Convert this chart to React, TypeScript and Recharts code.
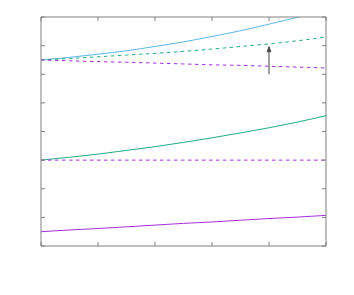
import React from 'react';
import { LineChart, Line, XAxis, YAxis, ReferenceLine, ReferenceDot } from 'recharts';

const xs = [0, 0.5, 1, 1.5, 2, 2.5, 3, 3.5, 4, 4.5, 5];
const upperSolid = [6.5, 6.59, 6.7, 6.82, 6.97, 7.13, 7.32, 7.52, 7.75, 7.99, 8.25];
const upperGreenDash = [6.5, 6.55, 6.61, 6.67, 6.73, 6.8, 6.88, 6.97, 7.06, 7.17, 7.3];
const upperPurpleDash = [6.5, 6.47, 6.44, 6.42, 6.39, 6.36, 6.33, 6.31, 6.28, 6.25, 6.22];
const midSolid = [3.0, 3.1, 3.21, 3.34, 3.47, 3.62, 3.78, 3.95, 4.13, 4.33, 4.55];
const midDash = [3, 3, 3, 3, 3, 3, 3, 3, 3, 3, 3];
const lowSolid = [0.5, 0.56, 0.61, 0.67, 0.73, 0.79, 0.84, 0.9, 0.96, 1.01, 1.07];

const xTicks = [0, 1, 2, 3, 4, 5];
const yTicks = [0, 1, 2, 3, 4, 5, 6, 7, 8];
const arrowX = 4;
const arrowFrom = 6.0;
const arrowTo = 6.96;

const data = xs.map((x, i) => ({
  x,
  a: upperSolid[i],
  b: upperGreenDash[i],
  c: upperPurpleDash[i],
  d: midSolid[i],
  e: midDash[i],
  f: lowSolid[i],
}));

const frame = '#808080';
const cyan = '#5ab8ea';
const green = '#22ad86';
const purple = '#a52ee0';
const blank = () => '';

const ArrowHead = (props: any) => {
  const { cx, cy } = props;
  return (
    <path
      d={`M${cx - 2},${cy + 5} L${cx},${cy} L${cx + 2},${cy + 5} Z`}
      stroke="#444"
      strokeWidth={0.8}
      fill="#444"
    />
  );
};

export default function App() {
  return (
    <LineChart width={330} height={270} data={data} margin={{ top: 9, right: 12, bottom: 32, left: 33 }}>
      <XAxis dataKey="x" type="number" domain={[0, 5]} ticks={xTicks} mirror tickSize={4}
        stroke={frame} tickFormatter={blank} />
      <XAxis xAxisId="top" dataKey="x" type="number" domain={[0, 5]} ticks={xTicks} orientation="top"
        mirror tickSize={4} stroke={frame} tickFormatter={blank} />
      <YAxis type="number" domain={[0, 8]} ticks={yTicks} allowDataOverflow mirror tickSize={4}
        stroke={frame} tickFormatter={blank} />
      <YAxis yAxisId="right" type="number" domain={[0, 8]} ticks={yTicks} orientation="right"
        allowDataOverflow mirror tickSize={4} stroke={frame} tickFormatter={blank} />
      <Line dataKey="a" type="monotone" stroke={cyan} strokeWidth={1} dot={false} isAnimationActive={false} />
      <Line dataKey="b" type="monotone" stroke={green} strokeWidth={1} strokeDasharray="3.5 3.5" dot={false} isAnimationActive={false} />
      <Line dataKey="c" type="monotone" stroke={purple} strokeWidth={1} strokeDasharray="3.5 3.5" dot={false} isAnimationActive={false} />
      <Line dataKey="d" type="monotone" stroke={green} strokeWidth={1} dot={false} isAnimationActive={false} />
      <Line dataKey="e" type="monotone" stroke={purple} strokeWidth={1} strokeDasharray="3.5 3.5" dot={false} isAnimationActive={false} />
      <Line dataKey="f" type="monotone" stroke={purple} strokeWidth={1} dot={false} isAnimationActive={false} />
      <ReferenceLine segment={[{ x: arrowX, y: arrowFrom }, { x: arrowX, y: arrowTo }]} stroke="#444" strokeWidth={1} />
      <ReferenceDot x={arrowX} y={arrowTo} shape={ArrowHead} />
    </LineChart>
  );
}
